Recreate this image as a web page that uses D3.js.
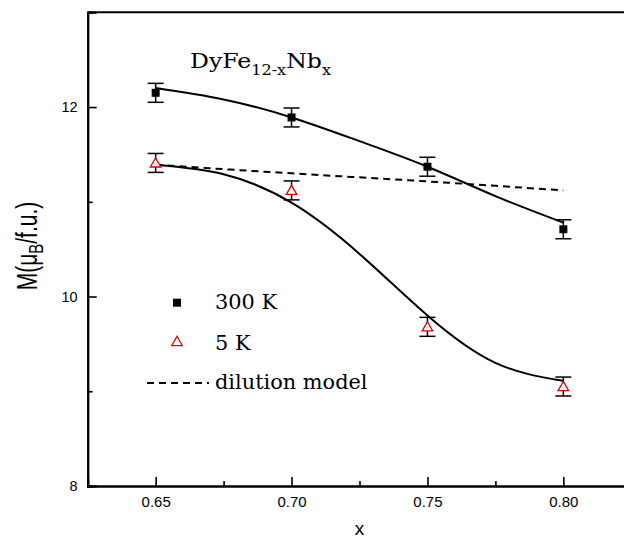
<!DOCTYPE html>
<html>
<head>
<meta charset="utf-8">
<script src="https://cdn.jsdelivr.net/npm/d3@7"></script>
<style>
  html, body { margin: 0; padding: 0; background: #fff; }
  svg { display: block; }
</style>
</head>
<body>
<svg id="chart" width="624" height="539"></svg>
<script>
// Nb content x
const xValues = [0.65, 0.70, 0.75, 0.80];
// Measured moments (μB / f.u.)
const m300K = [12.15, 11.89, 11.37, 10.71];
const m5K = [11.41, 11.12, 9.68, 9.05];
const errM = [0.1, 0.1, 0.1, 0.1];

// Fitted curves through the data
const fitX = [0.65, 0.675, 0.70, 0.725, 0.75, 0.775, 0.80];
const fit300K = [12.20, 12.08, 11.89, 11.64, 11.37, 11.06, 10.78];
const fit5K = [11.39, 11.29, 10.99, 10.45, 9.80, 9.30, 9.11];

// Dilution model prediction
const dilX = [0.65, 0.70, 0.75, 0.80];
const dilM = [11.39, 11.30, 11.215, 11.12];

const xTicks = [0.65, 0.70, 0.75, 0.80];
const xMinor = [0.675, 0.725, 0.775];
const yTicks = [8, 10, 12];
const yMinor = [9, 11];

const svg = d3.select("#chart");
const x = d3.scaleLinear().domain([0.625, 0.825]).range([87.7, 631.3]);
const y = d3.scaleLinear().domain([8, 13]).range([486, 12.3]);

// frame: top border (right border lies outside the visible area)
svg.append("line")
  .attr("x1", x(0.625)).attr("x2", x(0.825))
  .attr("y1", y(13)).attr("y2", y(13))
  .attr("stroke", "#000").attr("stroke-width", 2);

// x axis
const xAxis = svg.append("g").attr("transform", `translate(0,${y(8)})`)
  .call(d3.axisBottom(x).tickValues(xTicks).tickSize(-9).tickPadding(10)
    .tickFormat(d3.format(".2f")));
svg.append("g").attr("transform", `translate(0,${y(8)})`)
  .call(d3.axisBottom(x).tickValues(xMinor).tickSize(-5).tickFormat(""));

// y axis
const yAxis = svg.append("g").attr("transform", `translate(${x(0.625)},0)`)
  .call(d3.axisLeft(y).tickValues(yTicks).tickSize(-9).tickPadding(10)
    .tickFormat(d3.format("d")));
svg.append("g").attr("transform", `translate(${x(0.625)},0)`)
  .call(d3.axisLeft(y).tickValues(yMinor).tickSize(-5).tickFormat(""));

svg.selectAll(".domain").attr("stroke", "#000").attr("stroke-width", 2);
svg.selectAll(".tick line").attr("stroke", "#000").attr("stroke-width", 1.6);
svg.selectAll(".tick text")
  .attr("font-family", "Liberation Sans, Arial, sans-serif")
  .attr("font-size", 14.5).attr("fill", "#000");
xAxis.selectAll(".tick text").attr("font-size", 15);

// axis titles
svg.append("text")
  .attr("x", 359.5).attr("y", 535)
  .attr("text-anchor", "middle")
  .attr("font-family", "Liberation Sans, Arial, sans-serif")
  .attr("font-size", 19)
  .text("x");

const yTitle = svg.append("text")
  .attr("transform", "translate(37,246) rotate(-90) scale(1,1.4)")
  .attr("text-anchor", "middle")
  .attr("font-family", "Liberation Sans, Arial, sans-serif")
  .attr("font-size", 21);
yTitle.append("tspan").text("M(μ");
yTitle.append("tspan").attr("font-size", 15).attr("dy", 4).text("B");
yTitle.append("tspan").attr("dy", -4).text("/f.u.)");

// compound label
const title = svg.append("text")
  .attr("transform", "translate(190,68) scale(1.15,1)")
  .attr("font-family", "DejaVu Serif, serif")
  .attr("font-size", 20.5);
title.append("tspan").text("DyFe");
title.append("tspan").attr("font-size", 14).attr("dy", 7).text("12-x");
title.append("tspan").attr("dy", -7).text("Nb");
title.append("tspan").attr("font-size", 14).attr("dy", 7).text("x");

// curves
const line = d3.line().curve(d3.curveNatural);
const fitPts = (vals) => fitX.map((d, i) => [x(d), y(vals[i])]);
svg.append("path").attr("d", line(fitPts(fit300K)))
  .attr("fill", "none").attr("stroke", "#000").attr("stroke-width", 2);
svg.append("path").attr("d", line(fitPts(fit5K)))
  .attr("fill", "none").attr("stroke", "#000").attr("stroke-width", 2);
svg.append("path")
  .attr("d", d3.line().curve(d3.curveMonotoneX)(dilX.map((d, i) => [x(d), y(dilM[i])])))
  .attr("fill", "none").attr("stroke", "#000").attr("stroke-width", 2)
  .attr("stroke-dasharray", "7,5");

// error bars
function errorBars(vals) {
  const g = svg.append("g").attr("stroke", "#000").attr("stroke-width", 1.5);
  xValues.forEach((xv, i) => {
    const cx = x(xv), y1 = y(vals[i] - errM[i]), y2 = y(vals[i] + errM[i]);
    g.append("line").attr("x1", cx).attr("x2", cx).attr("y1", y1).attr("y2", y2);
    g.append("line").attr("x1", cx - 8).attr("x2", cx + 8).attr("y1", y1).attr("y2", y1);
    g.append("line").attr("x1", cx - 8).attr("x2", cx + 8).attr("y1", y2).attr("y2", y2);
  });
}
errorBars(m300K);
errorBars(m5K);

// markers
const sq = d3.symbol().type(d3.symbolSquare).size(64);
const tri = d3.symbol().type(d3.symbolTriangle).size(48);
svg.append("g").selectAll("path").data(xValues).join("path")
  .attr("transform", (d, i) => `translate(${x(d)},${y(m300K[i])})`)
  .attr("d", sq).attr("fill", "#000");
svg.append("g").selectAll("path").data(xValues).join("path")
  .attr("transform", (d, i) => `translate(${x(d)},${y(m5K[i]) + 1})`)
  .attr("d", tri).attr("fill", "#fff").attr("stroke", "#e00000").attr("stroke-width", 1.3);

// legend
const legendFont = "DejaVu Serif, serif";
svg.append("path").attr("transform", "translate(177,302.7)").attr("d", sq).attr("fill", "#000");
svg.append("path").attr("transform", "translate(177,342.5)").attr("d", tri)
  .attr("fill", "#fff").attr("stroke", "#e00000").attr("stroke-width", 1.3);
svg.append("line").attr("x1", 147).attr("x2", 209).attr("y1", 383).attr("y2", 383)
  .attr("stroke", "#000").attr("stroke-width", 2).attr("stroke-dasharray", "7,5");
const legendLabels = ["300 K", "5 K", "dilution model"];
const legendY = [309, 350, 389];
legendLabels.forEach((t, i) => {
  svg.append("text")
    .attr("transform", `translate(215,${legendY[i]}) scale(1.07,1)`)
    .attr("font-family", legendFont).attr("font-size", 19.5).text(t);
});
</script>
</body>
</html>
